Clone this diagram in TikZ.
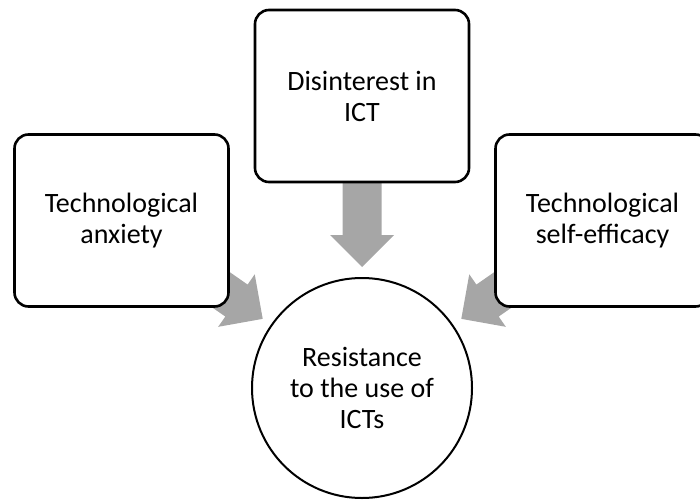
\documentclass[tikz,border=0pt]{standalone}
\usepackage{fontspec}
\setmainfont{Carlito}
\usetikzlibrary{calc,backgrounds}
\definecolor{arrowgray}{HTML}{A6A6A6}
\tikzset{
  factorbox/.style={draw=black, line width=2.6pt, rounded corners=14pt, fill=white,
    minimum width=214pt, minimum height=172pt, align=center, inner sep=0pt,
    font=\fontsize{28}{31}\selectfont},
  outcome/.style={draw=black, line width=2pt, circle, fill=white, minimum size=220pt,
    align=center, inner sep=0pt, font=\fontsize{28}{31}\selectfont},
}
\newcommand\blockarr[2]{%
  \path ($(#2.center)!121pt!(#1.center)$) coordinate (T#1)
        ($(T#1)!32pt!(#1.center)$) coordinate (B#1);
  \fill[arrowgray] ($(#1.center)!19.5pt!90:(B#1)$) -- ($(B#1)!19.5pt!-90:(#1.center)$)
    -- ($(B#1)!32pt!-90:(#1.center)$) -- (T#1) -- ($(B#1)!32pt!90:(#1.center)$)
    -- ($(B#1)!19.5pt!90:(#1.center)$) -- ($(#1.center)!19.5pt!-90:(B#1)$) -- cycle;
}
\begin{document}
\begin{tikzpicture}[x=1pt,y=-1pt]
\useasboundingbox (0,0) rectangle (700,500);
\node[factorbox] (top) at (362,96) {Disinterest in\\ICT};
\node[factorbox] (left) at (121.5,220.5) {Technological\\anxiety};
\node[factorbox] (right) at (602.5,220.5) {Technological\\self-efficacy};
\node[outcome] (circ) at (362,388) {Resistance\\to the use of\\ICTs};
\begin{scope}[on background layer]
  \blockarr{top}{circ}
  \blockarr{left}{circ}
  \blockarr{right}{circ}
\end{scope}
\end{tikzpicture}
\end{document}
